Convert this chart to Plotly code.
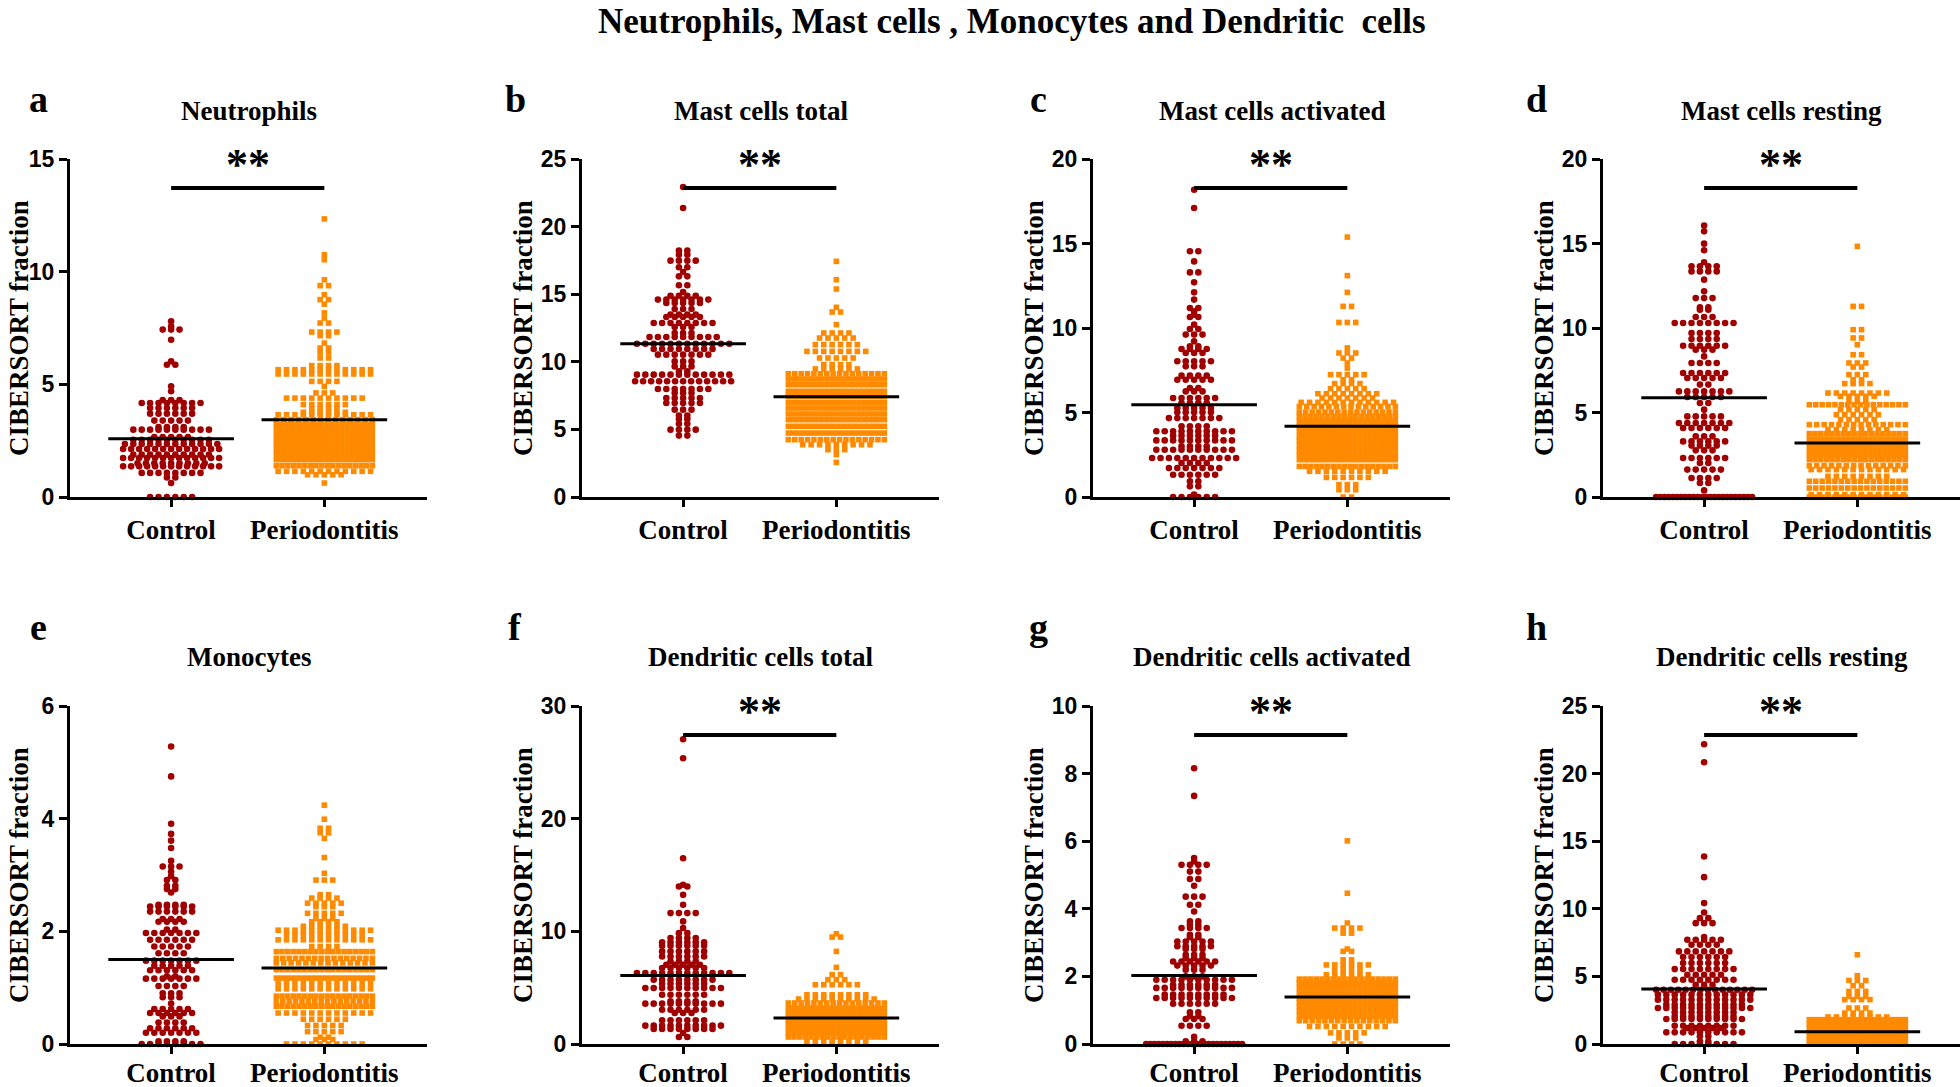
import plotly.graph_objects as go

# ---------------- data (row value, number of points in that row) ----------------
a_ctrl_vals = [0, 0.62, 0.87, 1.07, 1.36, 1.5, 1.73, 1.88, 2.13, 2.35, 2.54, 2.66, 2.99, 3.1, 3.39, 3.7, 3.95, 4.17, 4.3, 4.69, 4.91, 5.87, 6.02, 6.98, 7.43, 7.57, 7.8]
a_ctrl_cnts = [6, 1, 2, 8, 13, 9, 13, 10, 13, 12, 10, 5, 10, 4, 5, 6, 6, 8, 3, 1, 1, 2, 1, 1, 3, 1, 1]
a_per_vals = [0.62, 0.99, 1.14, 1.39, 1.66, 1.88, 2.1, 2.32, 2.54, 2.77, 2.99, 3.21, 3.43, 3.65, 3.76, 3.95, 4.1, 4.39, 4.62, 4.91, 5.13, 5.46, 5.65, 5.83, 6.17, 6.42, 6.61, 6.83, 7.16, 7.32, 7.72, 7.94, 8.17, 8.56, 8.76, 8.98, 9.38, 9.64, 10.53, 10.75, 12.34]
a_per_cnts = [1, 5, 12, 18, 20, 20, 20, 20, 20, 20, 20, 20, 14, 12, 6, 4, 6, 10, 3, 1, 4, 12, 12, 4, 2, 2, 2, 1, 2, 4, 2, 1, 1, 1, 2, 1, 2, 1, 1, 1, 1]

b_ctrl_vals = [4.54, 4.98, 5.42, 5.77, 6.02, 6.46, 6.95, 7.32, 7.69, 7.99, 8.56, 9.05, 9.29, 9.66, 10.03, 10.53, 10.95, 11.34, 11.83, 12.13, 12.57, 12.87, 13.31, 13.49, 13.9, 14.35, 14.6, 14.89, 15.16, 15.66, 16.32, 16.64, 16.99, 17.48, 17.92, 18.22, 21.38, 22.93]
b_ctrl_cnts = [2, 4, 2, 2, 2, 3, 5, 5, 3, 7, 13, 12, 2, 3, 3, 7, 8, 12, 9, 3, 3, 8, 5, 4, 3, 5, 7, 4, 1, 2, 2, 1, 2, 4, 2, 2, 1, 1]
b_per_vals = [2.56, 3.13, 3.5, 3.87, 4.24, 4.73, 5.23, 5.72, 6.14, 6.58, 7.0, 7.45, 7.82, 8.31, 8.73, 9.12, 9.47, 9.79, 10.28, 10.77, 11.27, 11.76, 12.13, 12.75, 13.68, 14.03, 15.38, 16.07, 17.43]
b_per_cnts = [1, 1, 3, 9, 16, 20, 20, 20, 20, 20, 20, 20, 20, 20, 20, 16, 6, 4, 5, 8, 6, 5, 4, 1, 2, 1, 1, 1, 1]

c_ctrl_vals = [0, 0.14, 0.63, 0.93, 1.32, 1.72, 2.01, 2.31, 2.8, 3.0, 3.35, 3.63, 3.89, 4.18, 4.67, 5.01, 5.27, 5.56, 5.86, 6.25, 6.45, 6.94, 7.18, 7.73, 8.03, 8.52, 8.76, 8.92, 9.21, 9.61, 9.94, 10.2, 10.65, 10.79, 10.99, 11.18, 11.68, 12.11, 12.7, 13.29, 13.94, 14.54, 17.1, 18.18]
c_ctrl_cnts = [6, 1, 2, 2, 6, 7, 4, 11, 10, 4, 10, 6, 10, 4, 7, 5, 5, 4, 6, 3, 2, 5, 4, 3, 5, 3, 4, 2, 1, 3, 2, 1, 2, 1, 1, 2, 1, 1, 1, 2, 1, 2, 1, 1]
c_per_vals = [0, 0.43, 0.73, 1.16, 1.52, 1.81, 2.21, 2.5, 2.76, 3.04, 3.33, 3.59, 3.89, 4.18, 4.48, 4.77, 5.03, 5.36, 5.6, 5.86, 6.11, 6.41, 6.71, 6.94, 7.24, 7.63, 7.93, 8.22, 8.52, 8.82, 10.33, 11.28, 12.11, 13.1, 15.38]
c_per_cnts = [2, 3, 3, 6, 10, 18, 20, 20, 20, 20, 20, 20, 20, 20, 20, 18, 16, 14, 12, 7, 8, 5, 4, 2, 5, 1, 1, 2, 3, 1, 3, 2, 1, 1, 1]

d_ctrl_vals = [0, 0.39, 0.83, 1.12, 1.62, 2.01, 2.31, 2.76, 3.04, 3.29, 3.59, 4.08, 4.38, 4.77, 5.17, 5.56, 5.92, 6.25, 6.65, 7.04, 7.34, 7.93, 8.32, 8.72, 8.95, 9.35, 9.7, 10.3, 10.65, 11.08, 11.22, 11.77, 12.17, 12.86, 13.35, 13.65, 13.89, 14.6, 14.99, 15.72, 16.06]
d_ctrl_cnts = [24, 1, 2, 4, 5, 2, 6, 3, 4, 6, 3, 6, 7, 5, 1, 2, 5, 7, 2, 5, 6, 4, 1, 3, 6, 4, 4, 8, 3, 2, 2, 3, 1, 1, 4, 4, 1, 1, 1, 1, 1]
d_per_vals = [0, 0.14, 0.53, 0.93, 1.22, 1.62, 1.85, 2.21, 2.5, 2.8, 3.1, 3.43, 3.75, 3.98, 4.28, 4.58, 4.87, 5.17, 5.46, 5.66, 5.96, 6.15, 6.71, 6.94, 7.24, 7.69, 7.93, 8.42, 9.01, 9.41, 9.9, 11.28, 14.83]
d_per_cnts = [16, 12, 16, 16, 8, 12, 14, 18, 20, 20, 20, 20, 18, 8, 14, 5, 6, 5, 16, 3, 5, 8, 4, 2, 3, 2, 3, 2, 1, 2, 2, 2, 1]

e_ctrl_vals = [0, 0.05, 0.2, 0.28, 0.38, 0.49, 0.55, 0.62, 0.72, 0.83, 0.9, 1.03, 1.16, 1.2, 1.31, 1.39, 1.48, 1.61, 1.73, 1.85, 1.97, 2.03, 2.17, 2.22, 2.35, 2.44, 2.47, 2.69, 2.75, 2.81, 2.91, 2.98, 3.06, 3.15, 3.25, 3.48, 3.61, 3.73, 3.91, 4.75, 5.28]
e_ctrl_cnts = [8, 4, 7, 6, 4, 3, 6, 5, 1, 3, 3, 4, 7, 2, 6, 5, 7, 4, 5, 6, 7, 2, 4, 3, 6, 6, 4, 1, 2, 2, 2, 1, 1, 3, 1, 1, 1, 1, 1, 1, 1]
e_per_vals = [0, 0.08, 0.12, 0.22, 0.33, 0.44, 0.55, 0.67, 0.76, 0.85, 0.98, 1.08, 1.17, 1.32, 1.44, 1.52, 1.64, 1.73, 1.85, 1.94, 2.02, 2.09, 2.17, 2.23, 2.32, 2.44, 2.5, 2.59, 2.65, 2.91, 3.03, 3.31, 3.65, 3.75, 3.83, 3.99, 4.24]
e_per_cnts = [10, 3, 2, 5, 5, 6, 12, 18, 16, 18, 12, 12, 20, 18, 14, 16, 18, 4, 12, 10, 12, 6, 4, 3, 5, 3, 5, 4, 2, 3, 1, 1, 1, 2, 2, 1, 1]

f_ctrl_vals = [0.62, 0.98, 1.33, 1.63, 2.1, 2.75, 3.04, 3.58, 3.78, 4.37, 4.97, 5.35, 5.71, 6.3, 6.74, 7.04, 7.33, 7.77, 8.22, 8.72, 9.02, 9.4, 9.84, 10.29, 10.88, 11.62, 12.36, 13.24, 13.98, 14.13, 16.49, 25.36, 27.05]
f_ctrl_cnts = [2, 1, 8, 10, 6, 3, 6, 10, 4, 6, 10, 6, 8, 12, 6, 5, 4, 6, 6, 6, 6, 4, 2, 1, 1, 4, 1, 1, 2, 1, 1, 1, 1]
f_per_vals = [0, 0.24, 0.62, 0.98, 1.33, 1.71, 2.1, 2.45, 2.81, 3.19, 3.64, 3.99, 4.37, 5.26, 5.71, 6.15, 6.8, 8.22, 9.49, 9.78]
f_per_cnts = [2, 8, 18, 20, 20, 20, 20, 20, 20, 20, 16, 10, 8, 6, 3, 2, 1, 1, 2, 1]

g_ctrl_vals = [0, 0.08, 0.21, 0.54, 0.74, 0.82, 0.94, 1.19, 1.36, 1.46, 1.66, 1.75, 1.9, 2.0, 2.2, 2.32, 2.44, 2.54, 2.64, 2.81, 2.89, 3.03, 3.16, 3.23, 3.43, 3.53, 3.63, 3.92, 4.12, 4.36, 4.68, 4.88, 5.1, 5.3, 5.4, 5.5, 7.34, 8.16]
g_ctrl_cnts = [24, 3, 1, 4, 3, 2, 2, 6, 10, 8, 10, 6, 10, 3, 3, 5, 6, 3, 3, 3, 5, 5, 2, 2, 4, 2, 2, 1, 2, 3, 1, 2, 2, 4, 1, 1, 1, 1]
g_per_vals = [0, 0.18, 0.33, 0.52, 0.69, 0.82, 0.97, 1.11, 1.23, 1.36, 1.51, 1.66, 1.8, 1.92, 2.05, 2.2, 2.34, 2.49, 2.74, 2.81, 3.28, 3.43, 3.58, 4.46, 6.01]
g_per_cnts = [4, 3, 5, 10, 16, 20, 20, 20, 20, 20, 20, 20, 20, 18, 6, 4, 6, 2, 2, 1, 2, 4, 1, 1, 1]

h_ctrl_vals = [0, 0.2, 0.57, 0.86, 1.18, 1.35, 1.85, 2.04, 2.34, 2.66, 2.91, 3.28, 3.65, 4.01, 4.38, 4.75, 5.12, 5.54, 5.99, 6.43, 6.85, 7.34, 7.71, 7.91, 8.94, 9.31, 9.73, 10.42, 12.34, 13.87, 20.84, 22.17]
h_ctrl_cnts = [8, 2, 2, 10, 5, 8, 10, 8, 8, 12, 10, 12, 12, 14, 3, 8, 5, 8, 6, 6, 7, 4, 5, 1, 3, 2, 1, 1, 1, 1, 1, 1]
h_per_vals = [0, 0.27, 0.57, 0.86, 1.18, 1.5, 1.8, 2.0, 2.29, 2.66, 3.28, 3.52, 3.89, 4.31, 4.7, 5.05, 6.6]
h_per_cnts = [20, 20, 20, 20, 20, 20, 20, 8, 4, 3, 4, 3, 3, 2, 3, 1, 1]

# group means (horizontal lines): [Control, Periodontitis]
a_means = [2.58, 3.43]
b_means = [11.34, 7.42]
c_means = [5.46, 4.18]
d_means = [5.88, 3.2]
e_means = [1.5, 1.35]
f_means = [6.08, 2.3]
g_means = [2.03, 1.39]
h_means = [4.06, 0.9]

panel_letters = ['a', 'b', 'c', 'd', 'e', 'f', 'g', 'h']
panel_titles = ['Neutrophils', 'Mast cells total', 'Mast cells activated', 'Mast cells resting',
                'Monocytes', 'Dendritic cells total', 'Dendritic cells activated', 'Dendritic cells resting']
y_max = [15, 25, 20, 20, 6, 30, 10, 25]
y_dtick = [5, 5, 5, 5, 2, 10, 2, 5]
significant = [True, True, True, True, False, True, True, True]
group_labels = ['Control', 'Periodontitis']

ctrl_data = [(a_ctrl_vals, a_ctrl_cnts), (b_ctrl_vals, b_ctrl_cnts), (c_ctrl_vals, c_ctrl_cnts), (d_ctrl_vals, d_ctrl_cnts),
             (e_ctrl_vals, e_ctrl_cnts), (f_ctrl_vals, f_ctrl_cnts), (g_ctrl_vals, g_ctrl_cnts), (h_ctrl_vals, h_ctrl_cnts)]
per_data = [(a_per_vals, a_per_cnts), (b_per_vals, b_per_cnts), (c_per_vals, c_per_cnts), (d_per_vals, d_per_cnts),
            (e_per_vals, e_per_cnts), (f_per_vals, f_per_cnts), (g_per_vals, g_per_cnts), (h_per_vals, h_per_cnts)]
means = [a_means, b_means, c_means, d_means, e_means, f_means, g_means, h_means]

# ---------------- layout geometry (pixels) ----------------
W, H = 1960, 1087
X_LEFT = [70, 582, 1093, 1603]
PW = 357
Y_TOP = [159, 706]
PH = 338
XR = [0.34, 2.67]
PPU = PW / (XR[1] - XR[0])   # pixels per x unit

CTRL_COLOR = '#A00000'
PER_COLOR = '#FF8A00'
SERIF = 'Liberation Serif, Times New Roman, serif'
SANS = 'Liberation Sans, Arial, sans-serif'


def swarm(vals, cnts, center, step_px=8.4, half_px=48):
    xs, ys = [], []
    for v, n in zip(vals, cnts):
        sp = step_px
        if n > 1 and (n - 1) * sp > 2 * half_px:
            sp = 2 * half_px / (n - 1)
        for i in range(n):
            xs.append(center + (i - (n - 1) / 2) * sp / PPU)
            ys.append(v)
    return xs, ys


fig = go.Figure()
layout = dict(width=W, height=H, margin=dict(l=0, r=0, t=0, b=0, autoexpand=False),
              template='none',
              plot_bgcolor='white', paper_bgcolor='white', showlegend=False)
shapes, annotations = [], []

for i in range(8):
    row, col = divmod(i, 4)
    xa = 'x' if i == 0 else f'x{i+1}'
    ya = 'y' if i == 0 else f'y{i+1}'
    xkey = 'xaxis' if i == 0 else f'xaxis{i+1}'
    ykey = 'yaxis' if i == 0 else f'yaxis{i+1}'
    x0 = X_LEFT[col]
    x1 = min(x0 + PW, W)
    ytop = Y_TOP[row]
    ybot = ytop + PH

    cx, cy = swarm(*ctrl_data[i], center=1)
    px, py = swarm(*per_data[i], center=2)
    fig.add_trace(go.Scatter(x=cx, y=cy, mode='markers', xaxis=xa, yaxis=ya, cliponaxis=False,
                             marker=dict(symbol='circle', size=6.6, color=CTRL_COLOR, line=dict(width=0)),
                             name='Control'))
    fig.add_trace(go.Scatter(x=px, y=py, mode='markers', xaxis=xa, yaxis=ya, cliponaxis=False,
                             marker=dict(symbol='square', size=5.6, color=PER_COLOR, line=dict(width=0)),
                             name='Periodontitis'))

    layout[xkey] = dict(domain=[x0 / W, x1 / W], range=XR, anchor=ya, automargin=False,
                        tickvals=[1, 2], ticktext=group_labels,
                        showline=True, linecolor='black', linewidth=3,
                        ticks='outside', ticklen=7, tickwidth=3, tickcolor='black',
                        ticklabelstandoff=0 if row == 0 else -4,
                        tickfont=dict(family=SERIF, size=27, color='black', weight='bold'),
                        showgrid=False, zeroline=False, fixedrange=True)
    layout[ykey] = dict(domain=[1 - ybot / H, 1 - ytop / H], range=[0, y_max[i]], anchor=xa, automargin=False,
                        dtick=y_dtick[i], tick0=0,
                        showline=True, linecolor='black', linewidth=3,
                        ticks='outside', ticklen=8, tickwidth=3, tickcolor='black',
                        tickfont=dict(family=SANS, size=23, color='black', weight='bold'),
                        showgrid=False, zeroline=False, fixedrange=True)

    # mean lines
    for g, m in enumerate(means[i]):
        shapes.append(dict(type='line', xref=xa, yref=ya, x0=g + 1 - 0.41, x1=g + 1 + 0.41,
                           y0=m, y1=m, line=dict(color='black', width=3)))

    # significance bar
    if significant[i]:
        shapes.append(dict(type='line', xref=xa, yref=f'{ya} domain', x0=1, x1=2, y0=0.914, y1=0.914,
                           line=dict(color='black', width=4)))
        annotations.append(dict(text='**', xref=xa, yref=f'{ya} domain', x=1.5, y=0.985,
                                showarrow=False, xanchor='center', yanchor='middle',
                                font=dict(family=SERIF, size=44, color='black', weight='bold')))

    # panel title
    title_y = [111, 657][row]
    annotations.append(dict(text=panel_titles[i], xref=f'{xa} domain', x=0.5, yref='paper', y=1 - title_y / H,
                            showarrow=False, xanchor='center', yanchor='middle',
                            font=dict(family=SERIF, size=27, color='black', weight='bold')))
    # panel letter
    letter_x = [38, 515, 1038, 1536][col]
    letter_y = [99, 627][row]
    annotations.append(dict(text=panel_letters[i], xref='paper', x=letter_x / W, yref='paper', y=1 - letter_y / H,
                            showarrow=False, xanchor='center', yanchor='middle',
                            font=dict(family=SERIF, size=38, color='black', weight='bold')))
    # y-axis title
    ytitle_x = max(x0 - 59, 19)
    annotations.append(dict(text='CIBERSORT fraction', xref='paper', x=ytitle_x / W, yref=f'{ya} domain', y=0.5,
                            showarrow=False, xanchor='center', yanchor='middle', textangle=-90,
                            font=dict(family=SERIF, size=27, color='black', weight='bold')))

# main title
annotations.append(dict(text='Neutrophils, Mast cells , Monocytes and Dendritic\u00a0 cells', xref='paper', yref='paper',
                        x=1012 / W, y=1 - 22 / H, showarrow=False, xanchor='center', yanchor='middle',
                        font=dict(family=SERIF, size=35, color='black', weight='bold')))

layout['shapes'] = shapes
layout['annotations'] = annotations
fig.update_layout(**layout)
fig.write_html('out.html', config={'displayModeBar': False},
               post_script="document.body.style.margin='0';document.body.style.overflow='hidden';")
